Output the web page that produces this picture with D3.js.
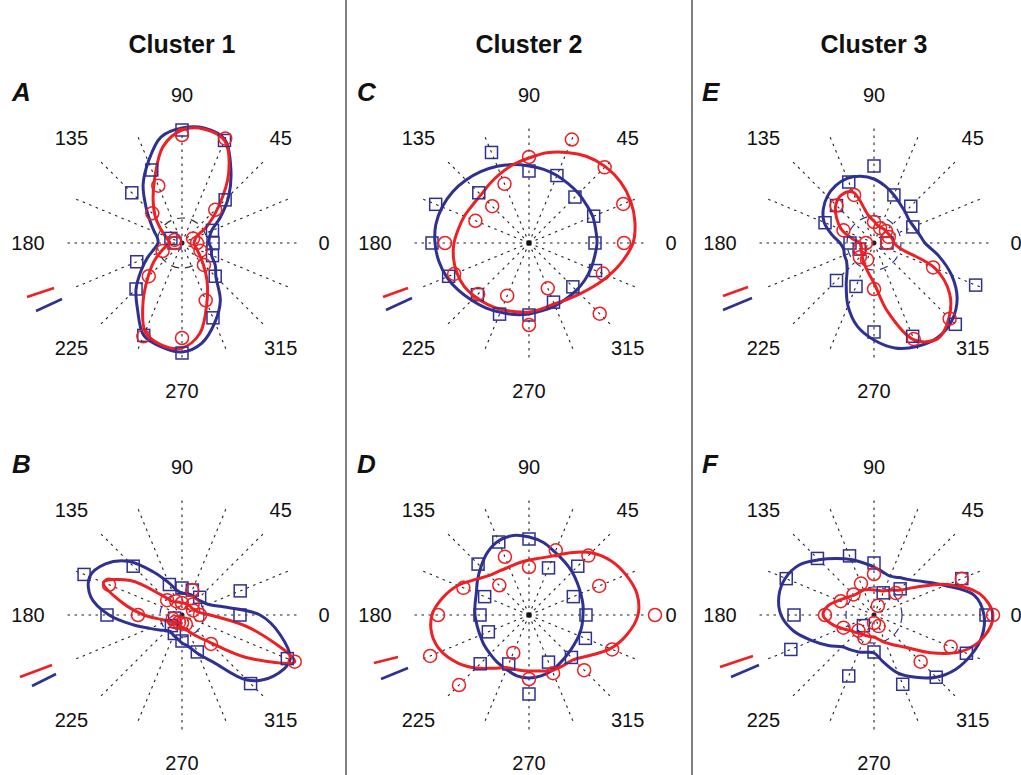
<!DOCTYPE html>
<meta charset="utf-8">
<style>
body { margin: 0; background: #fff; }
text { font-family: Arial, "Liberation Sans", sans-serif; fill: #111; }
.spoke { stroke: #222; stroke-width: 1.1; stroke-dasharray: 2.5,4.5; }
.tick { font-size: 20px; }
.title { font-size: 25px; font-weight: bold; }
.letter { font-size: 26px; font-weight: bold; font-style: italic; }
.fit { fill: none; stroke-width: 3; }
.sep { stroke: #555; stroke-width: 1.5; }
</style>
<body>
<script src="https://d3js.org/d3.v7.min.js"></script>
<script>
// directions of the measured points (deg, counter-clockwise from 0 = right)
var angles = [0, 22.5, 45, 67.5, 90, 112.5, 135, 157.5, 180, 202.5, 225, 247.5, 270, 292.5, 315, 337.5];
// directions at which the fitted curves were read (every 11.25 deg)
var fitAngles = d3.range(0, 360, 11.25);
var tickLabels = [0, 45, 90, 135, 180, 225, 270, 315];
var clusters = ["Cluster 1", "Cluster 2", "Cluster 3"];

// A  (cluster 1, top)
var aBluePts = [31, 33, 61, 111, 113, 79, 71, 12, 7, 49, 65, 100, 110, 81, 47, 33];
var aRedPts  = [15, 12, 47, 113, 108, 62, 42, 8, 7, 21, 47, 101, 95, 62, 31, 20];
var aBlueFit = [27, 28, 32, 46, 66, 88, 112, 117, 115, 108, 88, 70, 51, 38, 30, 25,
                24, 28, 37, 49, 65, 80, 100, 106, 109, 102, 86, 69, 48, 40, 32, 30];
var aRedFit  = [12, 13, 15, 30, 52, 84, 111, 116, 113, 98, 71, 52, 38, 26, 18, 14,
                12, 16, 23, 34, 48, 70, 96, 104, 105, 92, 65, 45, 30, 21, 16, 13];
// B  (cluster 1, bottom)
var bBluePts = [58, 63, 25, 27, 27, 33, 69, 106, 75, 8, 15, 20, 26, 40, 97, 114];
var bRedPts  = [18, 12, 15, 27, 12, 15, 21, 79, 44, 10, 10, 8, 8, 10, 41, 122];
var bBlueFit = [78, 42, 28, 24, 22, 22, 22, 22, 22, 25, 35, 52, 76, 92, 100, 93,
                73, 50, 35, 27, 22, 20, 22, 24, 28, 32, 42, 57, 92, 110, 117, 100];
var bRedFit  = [28, 16, 14, 12, 12, 12, 12, 12, 12, 13, 14, 16, 27, 62, 85, 60,
                38, 22, 15, 12, 10, 10, 10, 11, 12, 14, 18, 25, 38, 76, 122, 71];
// C  (cluster 2, top)
var cBluePts = [66, 70, 65, 73, 72, 98, 71, 101, 97, 87, 73, 77, 72, 64, 62, 72];
var cRedPts  = [95, 102, 107, 112, 86, 64, 52, 58, 84, 81, 72, 57, 82, 49, 100, 80];
var cBlueFit = [68, 68, 69, 69, 70, 71, 73, 75, 77, 80, 83, 86, 89, 92, 94, 95,
                94, 92, 89, 85, 81, 78, 75, 73, 71, 69, 68, 67, 67, 67, 67, 67];
var cRedFit  = [104, 108, 110, 110, 108, 104, 98, 92, 85, 80, 75, 71, 68, 68, 70, 72,
                75, 77, 78, 78, 76, 74, 72, 70, 69, 67, 66, 68, 72, 78, 86, 95];
// D  (cluster 2, bottom)
var dBluePts = [57, 48, 69, 51, 76, 79, 72, 48, 49, 44, 69, 53, 79, 51, 60, 61];
var dRedPts  = [126, 76, 84, 70, 48, 63, 42, 71, 91, 107, 99, 41, 64, 63, 78, 90];
var dBlueFit = [54, 55, 56, 58, 61, 64, 68, 74, 78, 81, 80, 75, 68, 62, 57, 55,
                54, 53, 53, 54, 55, 57, 59, 62, 63, 62, 60, 57, 55, 54, 54, 54];
var dRedFit  = [109, 110, 105, 98, 88, 75, 64, 58, 55, 53, 52, 53, 56, 64, 77, 88,
                97, 99, 95, 86, 75, 64, 57, 56, 56, 57, 60, 61, 63, 73, 88, 100];
// E  (cluster 3, top)
var eBluePts = [13, 42, 52, 52, 77, 66, 53, 53, 24, 16, 53, 47, 89, 101, 115, 110];
var eRedPts  = [13, 16, 17, 16, 21, 52, 53, 33, 8, 15, 20, 18, 46, 104, 107, 64];
var eBlueFit = [51, 46, 43, 42, 44, 47, 52, 58, 64, 68, 70, 69, 66, 61, 54, 43,
                34, 31, 32, 33, 38, 50, 68, 85, 97, 107, 112, 114, 110, 100, 84, 66];
var eRedFit  = [20, 19, 18, 17, 17, 17, 17, 18, 22, 28, 55, 58, 54, 45, 35, 22,
                14, 13, 14, 15, 17, 20, 24, 30, 40, 70, 105, 115, 106, 91, 66, 26];
// F  (cluster 3, bottom)
var fBluePts = [112, 95, 37, 24, 52, 64, 80, 95, 80, 90, 15, 66, 37, 75, 88, 100];
var fRedPts  = [119, 95, 31, 10, 41, 34, 29, 36, 49, 33, 22, 25, 8, 12, 66, 83];
var fBlueFit = [110, 102, 77, 60, 50, 45, 42, 44, 48, 53, 60, 68, 78, 90, 96, 97,
                93, 82, 67, 55, 45, 42, 40, 38, 38, 48, 63, 75, 88, 98, 105, 110];
var fRedFit  = [119, 108, 80, 50, 35, 30, 26, 25, 25, 26, 27, 27, 28, 32, 38, 47,
                51, 44, 35, 28, 25, 23, 22, 22, 22, 25, 30, 36, 46, 68, 95, 112];

// spontaneous level (dashed circle), 0 = none
var baseline = [25, 22, 0, 0, 27, 28];

var blue = "#2e3192", red = "#ed2024";
var W = 1021, H = 775, rMax = 118;

var r = d3.scaleLinear().domain([0, 120]).range([0, 120]);
var toRad = function(a) { return a * Math.PI / 180; };

var panels = [
  {id: "A", cx: 182, cy: 243, bp: aBluePts, rp: aRedPts, bf: aBlueFit, rf: aRedFit, base: baseline[0], baseCol: "#333", dot: false, lg: [[-155,54,-128,45],[-146,68,-120,56]]},
  {id: "B", cx: 182, cy: 615, bp: bBluePts, rp: bRedPts, bf: bBlueFit, rf: bRedFit, base: baseline[1], baseCol: blue, dot: false, lg: [[-162,62,-130,50],[-150,71,-126,59]]},
  {id: "C", cx: 529, cy: 243, bp: cBluePts, rp: cRedPts, bf: cBlueFit, rf: cRedFit, base: baseline[2], baseCol: blue, dot: true, lg: [[-146,54,-121,45],[-143,67,-117,55]]},
  {id: "D", cx: 529, cy: 615, bp: dBluePts, rp: dRedPts, bf: dBlueFit, rf: dRedFit, base: baseline[3], baseCol: blue, dot: true, lg: [[-155,48,-131,42],[-148,64,-121,53]]},
  {id: "E", cx: 874, cy: 243, bp: eBluePts, rp: eRedPts, bf: eBlueFit, rf: eRedFit, base: baseline[4], baseCol: blue, dot: false, lg: [[-151,53,-126,44],[-151,67,-122,55]]},
  {id: "F", cx: 874, cy: 615, bp: fBluePts, rp: fRedPts, bf: fBlueFit, rf: fRedFit, base: baseline[5], baseCol: blue, dot: false, lg: [[-154,52,-121,41],[-143,62,-115,50]]}
];

var svg = d3.select("body").append("svg")
    .attr("width", W)
    .attr("height", H);

// column separators
[346, 692].forEach(function(x) {
  svg.append("line").attr("class", "sep")
      .attr("x1", x).attr("x2", x).attr("y1", 0).attr("y2", H);
});

// cluster titles
clusters.forEach(function(c, i) {
  svg.append("text").attr("class", "title")
      .attr("x", panels[i * 2].cx).attr("y", 53)
      .attr("text-anchor", "middle")
      .text(c);
});

var fitLine = d3.lineRadial()
    .angle(function(d) { return toRad(90 - d.a); })
    .radius(function(d) { return r(d.v); })
    .curve(d3.curveCatmullRomClosed.alpha(0.5));

function pts(vals, angs) {
  return vals.map(function(v, i) { return {a: angs[i], v: v}; });
}
function px(d) { return r(d.v) * Math.cos(toRad(d.a)); }
function py(d) { return -r(d.v) * Math.sin(toRad(d.a)); }

panels.forEach(function(p) {
  // panel letter
  svg.append("text").attr("class", "letter")
      .attr("x", p.cx < 300 ? 12 : p.cx - 172)
      .attr("y", p.cy - 142)
      .text(p.id);

  var g = svg.append("g")
      .attr("transform", "translate(" + p.cx + "," + p.cy + ")");

  // spokes
  g.selectAll(".spoke").data(angles).enter().append("line")
      .attr("class", "spoke")
      .attr("x1", 0).attr("y1", 0)
      .attr("x2", function(a) { return r(rMax) * Math.cos(toRad(a)); })
      .attr("y2", function(a) { return -r(rMax) * Math.sin(toRad(a)); });

  // angle labels
  g.selectAll(".tick").data(tickLabels).enter().append("text")
      .attr("class", "tick")
      .attr("text-anchor", "middle")
      .attr("dominant-baseline", "central")
      .attr("x", function(a) { return 148 * Math.cos(toRad(a)) - (a % 180 === 90 ? 0 : 6); })
      .attr("y", function(a) { return -148 * Math.sin(toRad(a)); })
      .text(function(a) { return a; });

  if (p.dot) {
    g.append("rect").attr("x", -2.5).attr("y", -2.5)
        .attr("width", 5).attr("height", 5).attr("fill", "#111");
  }
  if (p.base > 0) {
    g.append("circle").attr("r", r(p.base))
        .attr("fill", "none").attr("stroke", p.baseCol)
        .attr("stroke-width", 1.2).attr("stroke-dasharray", "8,6");
  }

  // fitted tuning curves
  g.append("path").datum(pts(p.bf, fitAngles)).attr("class", "fit")
      .attr("stroke", blue).attr("d", fitLine);
  g.append("path").datum(pts(p.rf, fitAngles)).attr("class", "fit")
      .attr("stroke", red).attr("d", fitLine);

  // measured responses
  g.selectAll(".sq").data(pts(p.bp, angles)).enter().append("rect")
      .attr("class", "sq")
      .attr("x", function(d) { return px(d) - 6; })
      .attr("y", function(d) { return py(d) - 6; })
      .attr("width", 12).attr("height", 12)
      .attr("fill", "none").attr("stroke", blue).attr("stroke-width", 1.5);
  g.selectAll(".ci").data(pts(p.rp, angles)).enter().append("circle")
      .attr("class", "ci")
      .attr("cx", px).attr("cy", py).attr("r", 6.5)
      .attr("fill", "none").attr("stroke", red).attr("stroke-width", 1.5);

  // orientation key (red / blue bars)
  [red, blue].forEach(function(col, i) {
    var s = p.lg[i];
    g.append("line").attr("x1", s[0]).attr("y1", s[1]).attr("x2", s[2]).attr("y2", s[3])
        .attr("stroke", col).attr("stroke-width", 2.6);
  });
});
</script>
</body>
